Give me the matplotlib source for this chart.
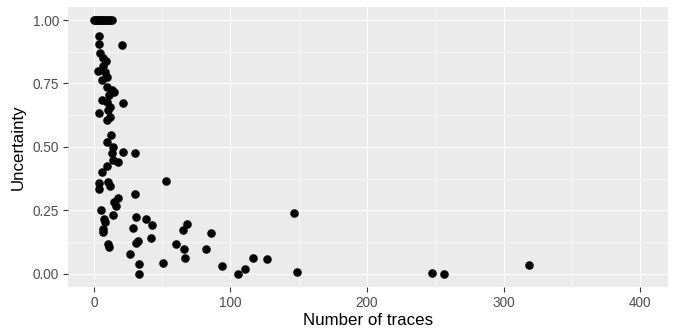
"""
Uncertainty vs number of traces -> ggplot-like scatter
"""

#%% Imports
import numpy as np
import matplotlib
matplotlib.use('Agg')
import matplotlib.pyplot as plt
from matplotlib.ticker import MultipleLocator

#%% Data
n_traces = [
    0, 1, 2, 3, 4, 5, 6, 7, 8, 9, 10, 11, 12, 13,
    3.7, 3.7, 20.5, 4.4, 6.6, 8.8, 6.6, 2.9, 8.0, 9.5, 5.9, 9.5, 13.2, 14.7,
    11.0, 5.9, 9.5, 11.7, 3.7, 21.2, 10.3, 9.5, 11.7, 12.5, 9.5, 14.0,
    13.2, 21.2, 30.0, 14.0, 17.6, 9.5, 5.9, 3.7, 10.3, 11.7, 3.7, 52.7,
    30.0, 17.6, 14.7, 16.0, 5.1, 14.0, 30.8, 38.0, 7.3, 8.0, 42.5, 68.0,
    65.0, 6.6, 6.6, 28.6, 41.8, 32.2, 30.8, 60.0, 10.3, 11.0, 66.0, 66.7,
    26.4, 50.5, 33.0, 33.0,
    85.7, 82.0, 146.5, 93.8, 105.5, 110.6, 116.5, 126.7, 148.7,
    247.6, 256.4, 318.7,
]
uncertainty = [
    1.0, 1.0, 1.0, 1.0, 1.0, 1.0, 1.0, 1.0, 1.0, 1.0, 1.0, 1.0, 1.0, 1.0,
    0.937, 0.906, 0.90, 0.87, 0.85, 0.84, 0.82, 0.80, 0.795, 0.776, 0.764, 0.736, 0.724, 0.717,
    0.705, 0.685, 0.677, 0.657, 0.634, 0.673, 0.646, 0.606, 0.618, 0.547, 0.52, 0.50,
    0.476, 0.48, 0.476, 0.449, 0.44, 0.425, 0.40, 0.358, 0.362, 0.346, 0.335, 0.366,
    0.315, 0.30, 0.283, 0.268, 0.252, 0.232, 0.224, 0.217, 0.217, 0.205, 0.193, 0.197,
    0.173, 0.177, 0.165, 0.181, 0.142, 0.13, 0.122, 0.118, 0.118, 0.106, 0.098, 0.063,
    0.079, 0.043, 0.039, 0.0,
    0.161, 0.098, 0.24, 0.031, 0.0, 0.02, 0.063, 0.059, 0.008,
    0.004, 0.0, 0.035,
]

x_ticks = [0, 100, 200, 300, 400]
y_ticks = [0.0, 0.25, 0.5, 0.75, 1.0]
y_tick_labels = ['0.00', '0.25', '0.50', '0.75', '1.00']

#%% Plot
plt.rcParams['font.family'] = ['Liberation Sans', 'DejaVu Sans']

fig = plt.figure(figsize=(6.73, 3.29), dpi=100)
ax = fig.add_axes([0.101, 0.128, 0.8916, 0.8507])
ax.set_facecolor('#EBEBEB')

ax.scatter(n_traces, uncertainty, s=38, color='black', linewidths=0, zorder=3)

ax.set_xlim(-19, 420.5)
ax.set_ylim(-0.051, 1.0512)
ax.set_xticks(x_ticks)
ax.set_yticks(y_ticks)
ax.set_yticklabels(y_tick_labels)
ax.xaxis.set_minor_locator(MultipleLocator(50))
ax.yaxis.set_minor_locator(MultipleLocator(0.125))

ax.grid(which='major', color='white', linewidth=0.85, zorder=0)
ax.grid(which='minor', color='white', linewidth=0.45, zorder=0)
ax.set_axisbelow(True)
for s in ax.spines.values():
    s.set_visible(False)

ax.tick_params(which='major', length=3.5, width=0.8, color='#333333',
               labelcolor='#4D4D4D', labelsize=9.8, pad=3)
ax.tick_params(which='minor', length=0)

ax.set_xlabel('Number of traces', fontsize=12.2, color='black', labelpad=2)
ax.set_ylabel('Uncertainty', fontsize=12.2, color='black', labelpad=5)

fig.savefig('out.png', dpi=100)
